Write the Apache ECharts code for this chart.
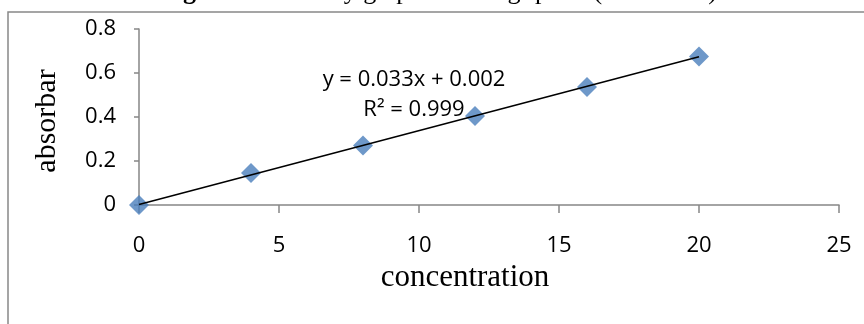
<!DOCTYPE html>
<html>
<head>
<meta charset="utf-8">
<script src="https://cdn.jsdelivr.net/npm/echarts@6/dist/echarts.min.js"></script>
<style>
  html, body { margin: 0; padding: 0; background: #fff; }
  #chart { width: 864px; height: 324px; }
</style>
</head>
<body>
<div id="chart"></div>
<script>
// measured points (concentration vs absorbance)
var concentration = [0, 4, 8, 12, 16, 20];
var absorbance = [0, 0.146, 0.27, 0.404, 0.536, 0.675];
// trend line end points
var trendX = [0, 20];
var trendY = [0.002, 0.674];
var equationText = ['y = 0.033x + 0.002', 'R² = 0.999'];

var myChart = echarts.init(document.getElementById('chart'));

var points = concentration.map(function (c, i) { return [c, absorbance[i]]; });
var trend = trendX.map(function (x, i) { return [x, trendY[i]]; });

var sans = '"Open Sans", sans-serif';
var serif = '"Liberation Serif", "Times New Roman", serif';
var axisGray = '#868686';

var option = {
  animation: false,
  backgroundColor: '#fff',
  grid: { left: 139, right: 25, top: 29, bottom: 119, containLabel: false },
  xAxis: {
    type: 'value',
    min: 0, max: 25, interval: 5,
    axisLine: { show: true, onZero: false, lineStyle: { color: axisGray, width: 1.5 } },
    axisTick: { show: true, inside: false, length: 8, lineStyle: { color: axisGray, width: 1.5 } },
    axisLabel: { color: '#000', fontFamily: sans, fontSize: 22, margin: 30 },
    splitLine: { show: false }
  },
  yAxis: {
    type: 'value',
    min: 0, max: 0.8, interval: 0.2,
    axisLine: { show: true, lineStyle: { color: axisGray, width: 1.5 } },
    axisTick: { show: true, inside: false, length: 5, lineStyle: { color: axisGray, width: 1.5 } },
    axisLabel: { color: '#000', fontFamily: sans, fontSize: 22, margin: 23 },
    splitLine: { show: false }
  },
  graphic: [
    {
      type: 'rect', z: 0, silent: true,
      shape: { x: 8, y: 12, width: 900, height: 400 },
      style: { fill: 'none', stroke: '#888', lineWidth: 1.5 }
    },
    {
      type: 'text', left: 160, top: -21,
      style: {
        text: '{b|Figure 5:}Linearity graph of Saxagliptine (Method A)',
        font: '26px ' + serif, fill: '#000',
        rich: { b: { fontWeight: 'bold', fontFamily: serif, fontSize: 26 } }
      }
    },
    {
      type: 'text', x: 47, y: 121, rotation: Math.PI / 2,
      style: { text: 'absorbar', font: '30px ' + serif, fill: '#000', align: 'center', verticalAlign: 'middle' }
    },
    {
      type: 'text', x: 465, y: 278,
      style: { text: 'concentration', font: '31px ' + serif, fill: '#000', align: 'center', verticalAlign: 'middle' }
    },
    {
      type: 'text', x: 414, y: 80,
      style: { text: equationText[0], font: '22px ' + sans, fill: '#000', align: 'center', verticalAlign: 'middle' }
    },
    {
      type: 'text', x: 414, y: 110,
      style: { text: equationText[1], font: '22px ' + sans, fill: '#000', align: 'center', verticalAlign: 'middle' }
    }
  ],
  series: [
    {
      type: 'scatter',
      data: points,
      symbol: 'diamond',
      symbolSize: 20,
      itemStyle: { color: '#4a7ebb' },
      z: 2
    },
    {
      type: 'line',
      data: trend,
      showSymbol: false,
      lineStyle: { color: '#000', width: 1.5 },
      z: 3
    }
  ]
};

myChart.setOption(option);
</script>
</body>
</html>
